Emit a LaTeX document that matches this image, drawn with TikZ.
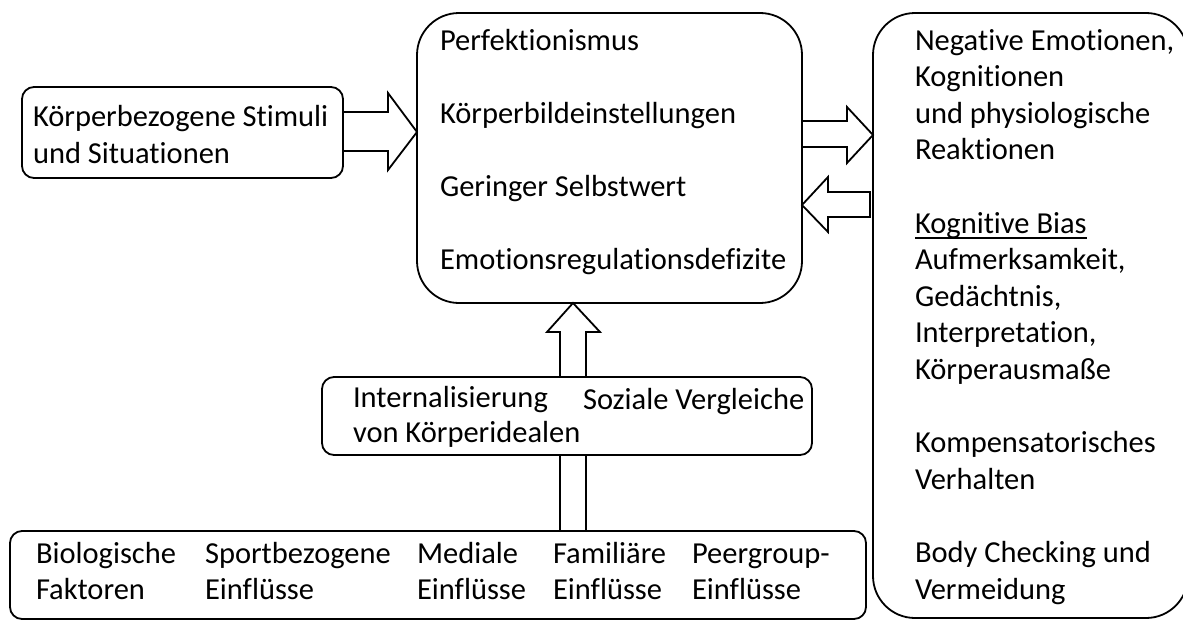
\documentclass[tikz,border=0pt]{standalone}
\usepackage{fontspec}
\setmainfont{Carlito}[Ligatures={NoCommon}]
\usetikzlibrary{fit}
\newcommand\kbul[1]{\setbox0\hbox{#1}\rlap{\rule[-5.8pt]{\wd0}{1.6pt}}#1}
\begin{document}
\begin{tikzpicture}[x=1pt,y=-1pt, line width=1.8pt,
  box/.style={draw, rounded corners=12pt, inner sep=0pt, outer sep=0pt, fill=white},
  bigbox/.style={box, rounded corners=42pt},
  txt/.style={anchor=base west, inner sep=0pt, outer sep=0pt, align=left, font=\fontsize{30.5}{36.6}\selectfont},
  barrow/.style={draw, fill=white, line join=miter}]
\useasboundingbox (0,0) rectangle (1183,621);
\begin{scope}
\clip (0,0) rectangle (1183,621);
\node[box, fit={(22,87)(343,178)}] (L) {};
\node[bigbox, fit={(417,13)(802,303)}] (C) {};
\node[bigbox, fit={(873,13)(1188,618)}] (R) {};
\node[box, fit={(10,531)(866,619)}] (B) {};
\end{scope}
% up arrow from bottom box to centre box
\draw[barrow] (B.north -| 560,0) -- (560,332) -- (547,332) -- (C.south -| 573,0) -- (600,332) -- (586,332) -- (B.north -| 586,0) -- cycle;
\node[box, fit={(322,377)(812,455)}] (M) {};
% left box -> centre box
\draw[barrow] (L.east |- 0,112) -- (388,112) -- (388,93) -- (C.west |- 0,132) -- (388,170) -- (388,151) -- (L.east |- 0,151) -- cycle;
% centre box -> right box
\draw[barrow] (C.east |- 0,121) -- (847,121) -- (847,107) -- (R.west |- 0,135) -- (847,163) -- (847,147) -- (C.east |- 0,147) -- cycle;
% right box -> centre box
\coordinate (rcstart) at (870,204.5);
\draw[barrow] (rcstart |- 0,192) -- (828,192) -- (828,177) -- (C.east |- 0,205) -- (828,232) -- (828,217) -- (rcstart |- 0,217) -- cycle;
% texts (anchor = baseline of the last line)
\node[txt] (tL) at (33,163.1) {Körperbezogene Stimuli\\und Situationen};
\node[txt] (tC) at (440,269.6) {Perfektionismus\\[36.6pt]Körperbildeinstellungen\\[36.6pt]Geringer Selbstwert\\[36.6pt]Emotionsregulationsdefizite};
\node[txt] (tR) at (915,599) {Negative Emotionen,\\Kognitionen\\und physiologische\\Reaktionen\\[36.6pt]\kbul{Kognitive Bias}\\Aufmerksamkeit,\\Gedächtnis,\\Interpretation,\\Körperausmaße\\[36.6pt]Kompensatorisches\\Verhalten\\[36.6pt]Body Checking und\\Vermeidung};
\node[txt, font=\fontsize{30.5}{35}\selectfont] (tM1) at (353,442) {Internalisierung\\von Körperidealen};
\node[txt] (tM2) at (583,409) {Soziale Vergleiche};
\node[txt] (tB1) at (36,599.6) {Biologische\\Faktoren};
\node[txt] (tB2) at (205,599.6) {Sportbezogene\\Einflüsse};
\node[txt] (tB3) at (417,599.6) {Mediale\\Einflüsse};
\node[txt] (tB4) at (553,599.6) {Familiäre\\Einflüsse};
\node[txt] (tB5) at (692,599.6) {Peergroup-\\Einflüsse};
\end{tikzpicture}
\end{document}
